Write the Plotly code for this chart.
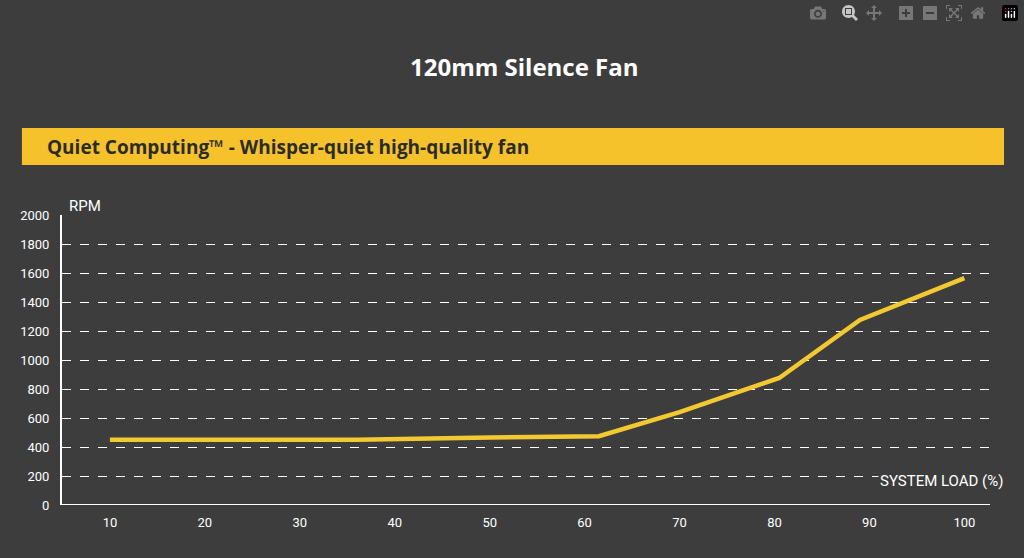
import plotly.graph_objects as go

load = [10, 20, 30, 36, 50, 61.5, 70, 80.5, 89, 100]
rpm = [450, 450, 450, 450, 465, 475, 640, 876, 1276, 1565]
xticks = [10, 20, 30, 40, 50, 60, 70, 80, 90, 100]
yticks = [0, 200, 400, 600, 800, 1000, 1200, 1400, 1600, 1800, 2000]

bg = "#3d3d3d"
fig = go.Figure()
fig.add_trace(go.Scatter(x=load, y=rpm, mode="lines",
                         line=dict(color="#f2c930", width=4.5)))
fig.update_layout(
    width=1024, height=558, paper_bgcolor=bg, plot_bgcolor=bg,
    margin=dict(l=62, r=34, t=215, b=53), showlegend=False,
    font=dict(family="Roboto, Arial, sans-serif", color="white", size=13),
    xaxis=dict(range=[4.95, 102.7], tickvals=xticks, showgrid=False, zeroline=False,
               showline=False, ticks="", ticklabelstandoff=8, tickfont=dict(size=13)),
    yaxis=dict(range=[0, 2000], tickvals=yticks, gridcolor="white", griddash="dash",
               gridwidth=1.3, zeroline=False, showline=True, linecolor="white",
               linewidth=2, ticks="", ticklabelstandoff=8, tickfont=dict(size=13)),
    shapes=[
        dict(type="line", xref="paper", yref="y", x0=0, x1=1, y0=0, y1=0,
             line=dict(color="white", width=2)),
        dict(type="rect", xref="paper", yref="paper", x0=-0.0432, x1=1.0151,
             y0=1.172, y1=1.3, fillcolor="#f5c22c", line=dict(width=0), layer="below"),
    ],
    annotations=[
        dict(text="<b>120mm Silence Fan</b>", xref="paper", yref="paper", x=0.498, y=1.576,
             showarrow=False, font=dict(size=24, color="white", family="Open Sans, sans-serif")),
        dict(text="<b>Quiet Computing™ - Whisper-quiet high-quality fan</b>", xref="paper",
             yref="paper", x=-0.018, y=1.236, xanchor="left", yanchor="middle", showarrow=False,
             font=dict(size=19, color="#2b2b2b", family="Open Sans, sans-serif")),
        dict(text="RPM", xref="paper", yref="paper", x=0.005, y=1.07, xanchor="left",
             showarrow=False, font=dict(size=15, color="white")),
        dict(text="SYSTEM LOAD (%)", xref="paper", yref="paper", x=1.016, y=0.045,
             xanchor="right", showarrow=False, bgcolor=bg, font=dict(size=15, color="white")),
    ],
)
fig.write_html("out.html", post_script="document.body.style.margin='0';document.body.style.background='#3d3d3d';")
